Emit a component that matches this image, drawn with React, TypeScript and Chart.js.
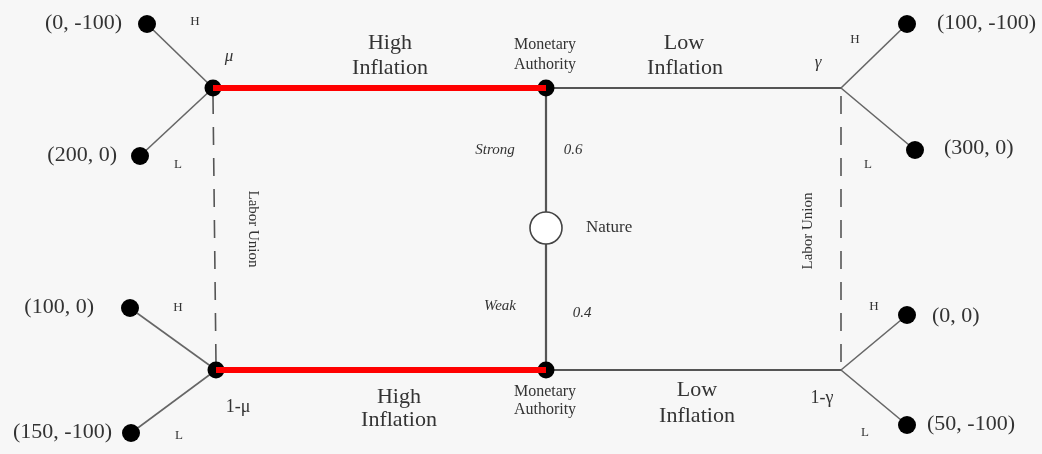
import React, { useEffect, useRef } from "react";
import { Chart, registerables } from "chart.js";

Chart.register(...registerables);

// Decision nodes (Labor Union info sets and Monetary Authority)
const nodeNames = ["mu", "maTop", "gamma", "oneMinusMu", "maBottom", "oneMinusGamma"];
const nodeX = [213, 546, 841, 216, 546, 841];
const nodeY = [88, 88, 88, 370, 370, 370];
const nodeHasDot = [true, true, false, true, true, false];

// Terminal nodes (payoffs)
const payoffLabels = ["(0, -100)", "(200, 0)", "(100, -100)", "(300, 0)", "(100, 0)", "(150, -100)", "(0, 0)", "(50, -100)"];
const leafX = [147, 140, 907, 915, 130, 131, 907, 907];
const leafY = [24, 156, 24, 150, 308, 433, 315, 425];
const leafParent = [0, 0, 2, 2, 3, 3, 5, 5];

// Nature move
const natureX = 546;
const natureY = 228;
const natureProbs = ["0.6", "0.4"];
const natureStates = ["Strong", "Weak"];

// Equilibrium (red) path: from node index to node index
const redEdges = [[0, 1], [3, 4]];
// Ordinary (gray) edges between decision nodes
const grayEdges = [[1, 2], [4, 5]];
// Information sets (dashed)
const infoSets = [[0, 3], [2, 5]];

type Lbl = { t: string; x: number; y: number; f: string; a?: CanvasTextAlign; r?: number; sx?: number };

const SERIF = '"Liberation Serif", "Times New Roman", serif';
const PAY = `20px ${SERIF}`;
const BIG = `21px ${SERIF}`;
const MA = `16px ${SERIF}`;
const labels: Lbl[] = [
  // top-left
  { t: payoffLabels[0], x: 122, y: 24, f: PAY, a: "right", sx: 1.1 },
  { t: payoffLabels[1], x: 117, y: 156, f: PAY, a: "right", sx: 1.1 },
  { t: "H", x: 195, y: 22, f: `13px ${SERIF}` },
  { t: "L", x: 178, y: 165, f: `13px ${SERIF}` },
  { t: "μ", x: 229, y: 57, f: `italic 17px ${SERIF}` },
  // top-middle
  { t: "High", x: 390, y: 43, f: BIG, sx: 1.05 },
  { t: "Inflation", x: 390, y: 68, f: BIG, sx: 1.05 },
  { t: "Monetary", x: 545, y: 45, f: MA },
  { t: "Authority", x: 545, y: 65, f: MA },
  { t: "Low", x: 684, y: 43, f: BIG, sx: 1.05 },
  { t: "Inflation", x: 685, y: 68, f: BIG, sx: 1.05 },
  { t: natureStates[0], x: 495, y: 150, f: `italic 15px ${SERIF}` },
  { t: natureProbs[0], x: 573, y: 150, f: `italic 15px ${SERIF}` },
  { t: "Nature", x: 586, y: 228, f: `17px ${SERIF}`, a: "left" },
  { t: natureStates[1], x: 500, y: 306, f: `italic 15px ${SERIF}` },
  { t: natureProbs[1], x: 582, y: 313, f: `italic 15px ${SERIF}` },
  // top-right
  { t: "γ", x: 818, y: 63, f: `italic 17px ${SERIF}` },
  { t: "H", x: 855, y: 40, f: `13px ${SERIF}` },
  { t: "L", x: 868, y: 165, f: `13px ${SERIF}` },
  { t: payoffLabels[2], x: 937, y: 24, f: PAY, a: "left", sx: 1.1 },
  { t: payoffLabels[3], x: 944, y: 149, f: PAY, a: "left", sx: 1.1 },
  // labor union
  { t: "Labor Union", x: 253, y: 229, f: `15px ${SERIF}`, r: Math.PI / 2 },
  { t: "Labor Union", x: 808, y: 231, f: `15px ${SERIF}`, r: -Math.PI / 2 },
  // bottom-left
  { t: payoffLabels[4], x: 94, y: 308, f: PAY, a: "right", sx: 1.1 },
  { t: payoffLabels[5], x: 112, y: 433, f: PAY, a: "right", sx: 1.1 },
  { t: "H", x: 178, y: 308, f: `13px ${SERIF}` },
  { t: "L", x: 179, y: 436, f: `13px ${SERIF}` },
  { t: "1-μ", x: 238, y: 407, f: `18px ${SERIF}` },
  // bottom-middle
  { t: "High", x: 399, y: 397, f: BIG, sx: 1.05 },
  { t: "Inflation", x: 399, y: 420, f: BIG, sx: 1.05 },
  { t: "Monetary", x: 545, y: 392, f: MA },
  { t: "Authority", x: 545, y: 410, f: MA },
  { t: "Low", x: 697, y: 390, f: BIG, sx: 1.05 },
  { t: "Inflation", x: 697, y: 416, f: BIG, sx: 1.05 },
  // bottom-right
  { t: "1-γ", x: 822, y: 398, f: `18px ${SERIF}` },
  { t: "H", x: 874, y: 307, f: `13px ${SERIF}` },
  { t: "L", x: 865, y: 433, f: `13px ${SERIF}` },
  { t: payoffLabels[6], x: 932, y: 317, f: PAY, a: "left", sx: 1.1 },
  { t: payoffLabels[7], x: 927, y: 425, f: PAY, a: "left", sx: 1.1 },
];

const W = 1042;
const H = 454;

const labelPlugin = {
  id: "treeLabels",
  beforeDraw(chart: any) {
    const ctx = chart.ctx;
    ctx.save();
    ctx.fillStyle = "#f7f7f7";
    ctx.fillRect(0, 0, chart.width, chart.height);
    ctx.restore();
  },
  afterDatasetsDraw(chart: any) {
    const ctx = chart.ctx;
    const xs = chart.scales.x;
    const ys = chart.scales.y;
    ctx.save();
    ctx.fillStyle = "#333";
    ctx.textBaseline = "middle";
    for (const l of labels) {
      const px = xs.getPixelForValue(l.x);
      const py = ys.getPixelForValue(l.y);
      ctx.save();
      ctx.translate(px, py);
      if (l.r) ctx.rotate(l.r);
      if (l.sx) ctx.scale(l.sx, 1);
      ctx.font = l.f;
      ctx.textAlign = l.a || "center";
      ctx.fillText(l.t, 0, 0);
      ctx.restore();
    }
    ctx.restore();
  },
};

function seg(a: [number, number], b: [number, number]) {
  return [{ x: a[0], y: a[1] }, { x: b[0], y: b[1] }];
}

export default function App() {
  const ref = useRef<HTMLCanvasElement | null>(null);
  useEffect(() => {
    document.body.style.margin = "0";
    const canvas = ref.current;
    if (!canvas) return;
    const node = (i: number): [number, number] => [nodeX[i], nodeY[i]];
    const datasets: any[] = [];
    const lineBase = { showLine: true, pointRadius: 0, pointHoverRadius: 0, fill: false, tension: 0, clip: false };
    // info sets (dashed)
    infoSets.forEach(([a, b]) => {
      datasets.push({
        ...lineBase,
        data: seg([nodeX[a], nodeY[a] + 8], [nodeX[b], nodeY[b] - 6]),
        borderColor: "#555",
        borderWidth: 1.6,
        borderDash: [18, 13],
        order: 5,
      });
    });
    // branches to leaves
    leafParent.forEach((p, i) => {
      datasets.push({
        ...lineBase,
        data: seg(node(p), [leafX[i], leafY[i]]),
        borderColor: "#666",
        borderWidth: 1.6,
        order: 4,
      });
    });
    // gray edges
    grayEdges.forEach(([a, b]) => {
      datasets.push({ ...lineBase, data: seg(node(a), node(b)), borderColor: "#555", borderWidth: 2.2, order: 4 });
    });
    // nature edges
    [1, 4].forEach((i) => {
      datasets.push({ ...lineBase, data: seg([natureX, natureY], node(i)), borderColor: "#555", borderWidth: 2.2, order: 4 });
    });
    // dots: leaves
    datasets.push({
      data: leafX.map((x, i) => ({ x, y: leafY[i] })),
      pointRadius: 9,
      pointBackgroundColor: "#000",
      pointBorderWidth: 0,
      showLine: false,
      clip: false,
      order: 2,
    });
    // dots: decision nodes
    datasets.push({
      data: nodeX.map((x, i) => ({ x, y: nodeY[i] })).filter((_, i) => nodeHasDot[i]),
      pointRadius: 8.5,
      pointBackgroundColor: "#000",
      pointBorderWidth: 0,
      showLine: false,
      clip: false,
      order: 2,
    });
    // red equilibrium path
    redEdges.forEach(([a, b]) => {
      datasets.push({ ...lineBase, data: seg(node(a), node(b)), borderColor: "#ff0000", borderWidth: 6, borderCapStyle: "butt", order: 1 });
    });
    // nature node
    datasets.push({
      data: [{ x: natureX, y: natureY }],
      pointRadius: 16,
      pointBackgroundColor: "#ffffff",
      pointBorderColor: "#444",
      pointBorderWidth: 1.6,
      showLine: false,
      clip: false,
      order: 0,
    });

    const chart = new Chart(canvas, {
      type: "scatter",
      data: { datasets },
      options: {
        animation: false,
        responsive: false,
        maintainAspectRatio: false,
        layout: { padding: 0, autoPadding: false },
        events: [],
        plugins: { legend: { display: false }, tooltip: { enabled: false } },
        scales: {
          x: { type: "linear", min: 0, max: W, display: false },
          y: { type: "linear", min: 0, max: H, reverse: true, display: false },
        },
      },
      plugins: [labelPlugin],
    });
    return () => chart.destroy();
  }, []);
  return (
    <div style={{ width: W, height: H }}>
      <canvas ref={ref} width={W} height={H} style={{ display: "block" }} />
    </div>
  );
}
